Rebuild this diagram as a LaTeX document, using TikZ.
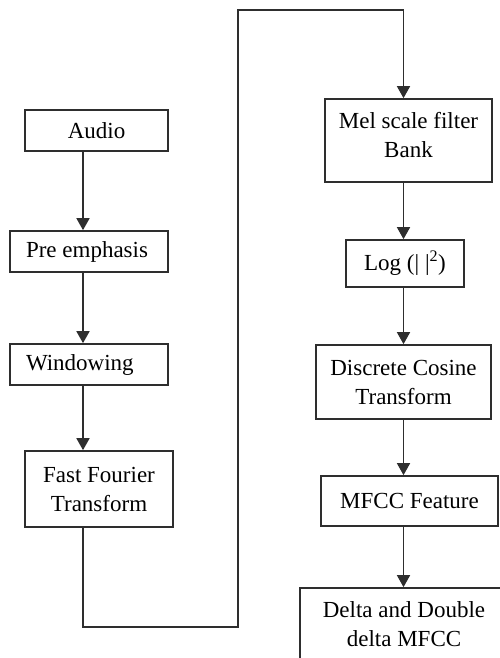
\documentclass[tikz,border=0pt]{standalone}
\usepackage{fontspec}
\setmainfont{Liberation Serif}
\usetikzlibrary{arrows.meta}
\definecolor{edge}{HTML}{2E2E2E}
\begin{document}
\begin{tikzpicture}[x=1pt,y=-1pt,
  box/.style={draw=edge,line width=1.7pt,align=center,inner sep=0pt,
    font=\fontsize{23}{29}\selectfont,text=black},
  lbox/.style={box,align=flush left,inner xsep=16pt},
  arr/.style={draw=edge,line width=1.7pt,-{Triangle[width=13pt,length=12pt]}}]
\useasboundingbox (0,0) rectangle (500,658);
\clip (0,0) rectangle (500,658);

% left column
\node[box,minimum width=143,minimum height=41] (audio) at (96.5,130.5) {Audio};
\node[lbox,text width=126,minimum height=41] (pre) at (89,251.5) {Pre emphasis};
\node[lbox,text width=126,minimum height=41] (win) at (89,364.5) {Windowing};
\node[box,minimum width=148,minimum height=76] (fft) at (99,489) {Fast Fourier\\Transform};

% right column (two-line labels sit a little high in their boxes)
\node[box,minimum width=167,minimum height=83,text depth=11pt] (mel) at (408.5,140.5) {Mel scale filter\\Bank};
\node[box,minimum width=118,minimum height=47] (log) at (405,263.5) {Log (|~|\textsuperscript{2})};
\node[box,minimum width=175,minimum height=74] (dct) at (403.5,382) {Discrete Cosine\\Transform};
\node[box,minimum width=177,minimum height=50] (mfcc) at (409.5,501) {MFCC Feature};
\node[box,minimum width=208,minimum height=84,text depth=11pt] (delta) at (404,630) {Delta and Double\\delta MFCC};

% connector lanes
\coordinate (lx) at (83,0);
\coordinate (rx) at (403.5,0);
\coordinate (c1) at (83,627);
\coordinate (c2) at (238,627);
\coordinate (c3) at (238,10);
\coordinate (c4) at (403.5,10);

\draw[arr] (audio.south -| lx) -- (pre.north -| lx);
\draw[arr] (pre.south -| lx) -- (win.north -| lx);
\draw[arr] (win.south -| lx) -- (fft.north -| lx);
\draw[arr] (fft.south -| lx) -- (c1) -- (c2) -- (c3) -- (c4) -- (mel.north -| rx);
\draw[arr] (mel.south -| rx) -- (log.north -| rx);
\draw[arr] (log.south -| rx) -- (dct.north -| rx);
\draw[arr] (dct.south -| rx) -- (mfcc.north -| rx);
\draw[arr] (mfcc.south -| rx) -- (delta.north -| rx);
\end{tikzpicture}
\end{document}
